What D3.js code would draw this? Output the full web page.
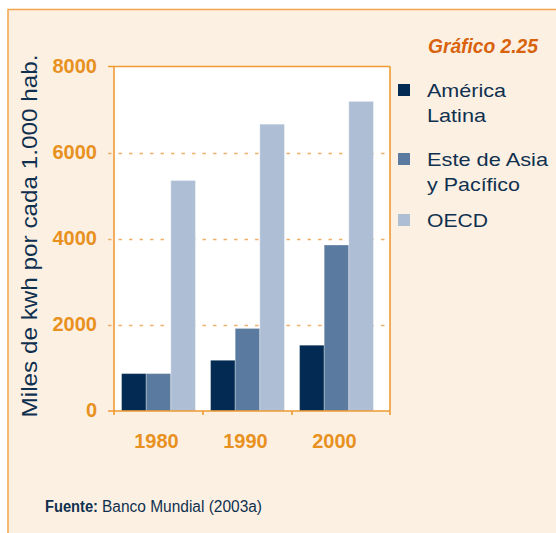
<!DOCTYPE html>
<html>
<head>
<meta charset="utf-8">
<script src="https://cdn.jsdelivr.net/npm/d3@7"></script>
<style>
    body { margin: 0; background: #ffffff; }
    svg { display: block; }
</style>
</head>
<body>
<div id="my_dataviz"></div>
<script>
var years = ["1980", "1990", "2000"];
var regions = ["América Latina", "Este de Asia y Pacífico", "OECD"];
var legendLines = [["América", "Latina"], ["Este de Asia", "y Pacífico"], ["OECD"]];
var americaLatina = [870, 1180, 1530];
var esteAsia = [870, 1920, 3860];
var oecd = [5360, 6670, 7200];
var yTicks = [0, 2000, 4000, 6000, 8000];

var colors = ["#022a52", "#5a7a9f", "#aebfd5"];
var orange = "#ef9a32";
var navy = "#10304f";

function CreateChart()
{
    var width = 556, height = 533;
    var plot = {left: 114, right: 390, top: 67, bottom: 411};

    var svg = d3.select("#my_dataviz")
        .append("svg")
        .attr("width", width)
        .attr("height", height);

    // panel background with orange border
    svg.append("rect")
        .attr("x", 8).attr("y", 9.5)
        .attr("width", width + 10).attr("height", height + 10)
        .style("fill", "#fcf0e3")
        .style("stroke", "#f1a54c")
        .style("stroke-width", 1.5);

    var rows = years.map(function(y, i) {
        return {year: y, values: [americaLatina[i], esteAsia[i], oecd[i]]};
    });

    var x = d3.scaleBand()
        .domain(years)
        .range([plot.left, 381])
        .paddingInner(0.17)
        .paddingOuter(0.085);

    var xInner = d3.scaleBand()
        .domain(d3.range(regions.length))
        .range([0, x.bandwidth()]);

    var y = d3.scaleLinear()
        .domain([0, 8000])
        .range([plot.bottom, plot.top]);

    svg.append("rect")
        .attr("x", plot.left).attr("y", plot.top)
        .attr("width", plot.right - plot.left)
        .attr("height", plot.bottom - plot.top)
        .style("fill", "#ffffff");

    // dashed grid lines
    svg.append("g").selectAll("line")
        .data(yTicks.filter(function(d) { return d > 0 && d < 8000; }))
        .enter().append("line")
        .attr("x1", 108).attr("x2", plot.right)
        .attr("y1", function(d) { return y(d) + 0.5; })
        .attr("y2", function(d) { return y(d) + 0.5; })
        .style("stroke", "#f0ae68")
        .style("stroke-width", 1.3)
        .style("stroke-dasharray", "3.5,7");

    // bars
    svg.append("g").selectAll("g")
        .data(rows)
        .enter().append("g")
        .attr("transform", function(d) { return "translate(" + x(d.year) + ",0)"; })
        .selectAll("rect")
        .data(function(d) { return d.values; })
        .enter().append("rect")
        .attr("x", function(d, i) { return xInner(i); })
        .attr("y", function(d) { return y(d); })
        .attr("width", xInner.bandwidth())
        .attr("height", function(d) { return y(0) - y(d); })
        .style("fill", function(d, i) { return colors[i]; })
        .style("stroke", "rgba(255,255,255,0.3)")
        .style("stroke-width", 1);

    // frame: top, right, left axis, bottom axis
    var frame = svg.append("g").style("stroke", orange).style("stroke-width", 1.6).style("fill", "none");
    frame.append("line").attr("x1", 108).attr("x2", plot.right).attr("y1", plot.top - 0.5).attr("y2", plot.top - 0.5);
    frame.append("line").attr("x1", plot.right).attr("x2", plot.right).attr("y1", plot.top - 0.5).attr("y2", plot.bottom + 4);
    frame.append("line").attr("x1", plot.left).attr("x2", plot.left).attr("y1", plot.top - 0.5).attr("y2", plot.bottom + 4);
    frame.append("line").attr("x1", 108).attr("x2", plot.right).attr("y1", plot.bottom).attr("y2", plot.bottom);

    // x ticks at group boundaries
    var bounds = years.map(function(d) { return x(d) - x.step() * x.paddingInner() / 2; });
    bounds.push(plot.right);
    frame.selectAll(".xt")
        .data(bounds.slice(1, 3))
        .enter().append("line")
        .attr("x1", function(d) { return d; }).attr("x2", function(d) { return d; })
        .attr("y1", plot.bottom).attr("y2", plot.bottom + 4);

    // y tick labels
    svg.append("g").selectAll("text")
        .data(yTicks)
        .enter().append("text")
        .attr("x", 97)
        .attr("y", function(d) { return y(d) + 6; })
        .attr("text-anchor", "end")
        .style("font-family", "Liberation Sans, Arial, sans-serif")
        .style("font-weight", "bold")
        .style("font-size", "20px")
        .style("fill", "#e8911f")
        .text(function(d) { return d; });

    // x labels
    svg.append("g").selectAll("text")
        .data(years)
        .enter().append("text")
        .attr("x", function(d) { return x(d) + x.bandwidth() / 2 - 2; })
        .attr("y", 448)
        .attr("text-anchor", "middle")
        .style("font-family", "Liberation Sans, Arial, sans-serif")
        .style("font-weight", "bold")
        .style("font-size", "20px")
        .style("fill", "#e8911f")
        .text(function(d) { return d; });

    // y axis title
    svg.append("text")
        .attr("transform", "translate(37,236) rotate(-90)")
        .attr("text-anchor", "middle")
        .attr("textLength", 363)
        .attr("lengthAdjust", "spacingAndGlyphs")
        .style("font-family", "Liberation Sans, Arial, sans-serif")
        .style("font-size", "22px")
        .style("fill", navy)
        .text("Miles de kwh por cada 1.000 hab.");

    // title
    svg.append("text")
        .attr("x", 428).attr("y", 53)
        .attr("textLength", 110)
        .attr("lengthAdjust", "spacingAndGlyphs")
        .style("font-family", "Liberation Sans, Arial, sans-serif")
        .style("font-weight", "bold")
        .style("font-style", "italic")
        .style("font-size", "21px")
        .style("fill", "#d9630d")
        .text("Gráfico 2.25");

    // legend
    var legendTop = [84, 153, 214];
    var lineWidths = [[79, 59], [121, 93], [61]];
    var legend = svg.append("g");
    regions.forEach(function(r, i) {
        legend.append("rect")
            .attr("x", 398).attr("y", legendTop[i])
            .attr("width", 12).attr("height", 12)
            .style("fill", colors[i]);
        legendLines[i].forEach(function(line, j) {
            legend.append("text")
                .attr("x", 427)
                .attr("y", legendTop[i] + 13 + j * 25)
                .attr("textLength", lineWidths[i][j])
                .attr("lengthAdjust", "spacingAndGlyphs")
                .style("font-family", "Liberation Sans, Arial, sans-serif")
                .style("font-size", "19px")
                .style("fill", navy)
                .text(line);
        });
    });

    // source
    svg.append("text")
        .attr("x", 45).attr("y", 512)
        .attr("textLength", 53)
        .attr("lengthAdjust", "spacingAndGlyphs")
        .style("font-family", "Liberation Sans, Arial, sans-serif")
        .style("font-weight", "bold")
        .style("font-size", "16px")
        .style("fill", navy)
        .text("Fuente:");
    svg.append("text")
        .attr("x", 102).attr("y", 512)
        .attr("textLength", 160)
        .attr("lengthAdjust", "spacingAndGlyphs")
        .style("font-family", "Liberation Sans, Arial, sans-serif")
        .style("font-size", "16px")
        .style("fill", navy)
        .text("Banco Mundial (2003a)");
}

CreateChart();
</script>
</body>
</html>
